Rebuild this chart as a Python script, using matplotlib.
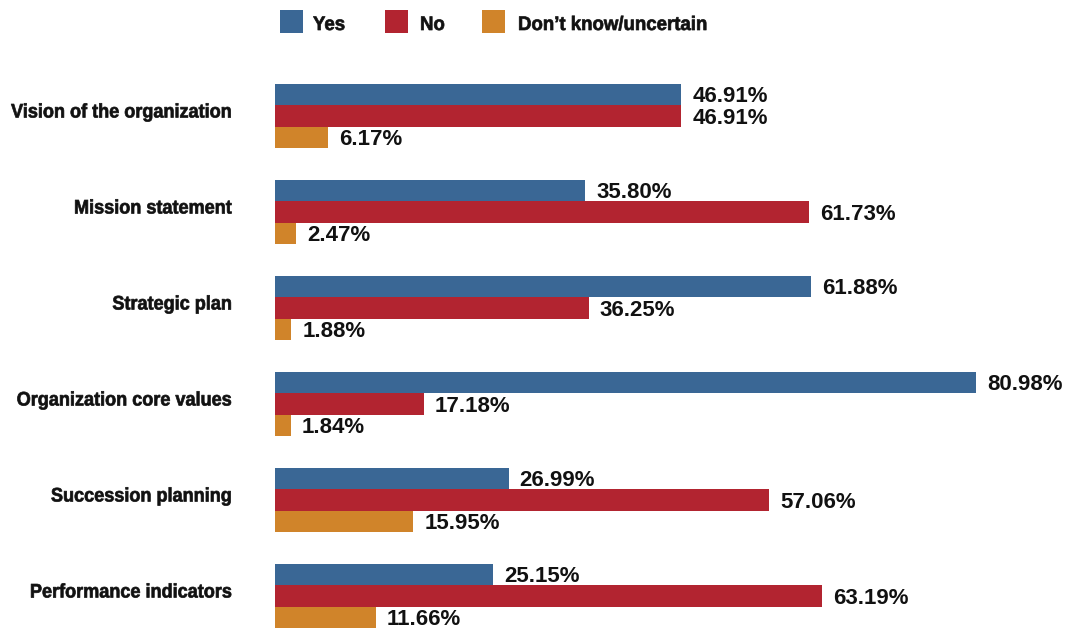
import matplotlib
matplotlib.use("Agg")
import matplotlib.pyplot as plt
from matplotlib.patches import Rectangle
from matplotlib.patheffects import AbstractPathEffect
from matplotlib.transforms import Affine2D, blended_transform_factory
from matplotlib.font_manager import FontProperties
import numpy as np

categories = ["Vision of the organization", "Mission statement", "Strategic plan",
              "Organization core values", "Succession planning", "Performance indicators"]
series_names = ["Yes", "No", "Don\u2019t know/uncertain"]
yes_vals = [46.91, 35.80, 61.88, 80.98, 26.99, 25.15]
no_vals = [46.91, 61.73, 36.25, 17.18, 57.06, 63.19]
dk_vals = [6.17, 2.47, 1.88, 1.84, 15.95, 11.66]
colors = ["#3A6795", "#B22430", "#D0842A"]

W, H = 1065, 628
TEXT_COLOR = "#111111"


class Reshape(AbstractPathEffect):
    """Scale text glyphs (narrow and tall, emulating a condensed bold typeface)."""
    def __init__(self, sx, sy, anchor="left", stroke=0.0):
        super().__init__()
        self.sx, self.sy = sx, sy
        self.anchor = anchor
        self.stroke = stroke

    def draw_path(self, renderer, gc, tpath, affine, rgbFace=None):
        x0 = tpath.get_extents().x1 if self.anchor == "right" else 0.0
        t = Affine2D().translate(-x0, 0).scale(self.sx, self.sy).translate(x0, 0)
        gc0 = renderer.new_gc()
        gc0.copy_properties(gc)
        if self.stroke > 0:
            gc0.set_linewidth(self.stroke)
            gc0.set_foreground(rgbFace)
        renderer.draw_path(gc0, tpath, t + affine, rgbFace)
        gc0.restore()


base_size = 12.4
target_size = 14.1
label_fp = FontProperties(family="Liberation Sans", weight="bold", size=base_size)

fig = plt.figure(figsize=(W / 100, H / 100), dpi=100)
renderer = fig.canvas.get_renderer()
tmp = fig.text(0, 0, "Vision of the organization", fontproperties=label_fp)
wpx = tmp.get_window_extent(renderer).width
tmp.remove()
sx = 221 / wpx
sy = target_size / base_size

ax_top_px, ax_bot_px = 70, 628
ax_left_px = 275
ax = fig.add_axes([ax_left_px / W, 0, 1 - ax_left_px / W, (ax_bot_px - ax_top_px) / H])

px_per_unit_y = 96.0
c0 = 116.0
ax.set_ylim((ax_bot_px - c0) / px_per_unit_y, (ax_top_px - c0) / px_per_unit_y)
px_per_pct = 701 / 80.98
ax.set_xlim(0, (W - ax_left_px) / px_per_pct)

bh = 21.5 / px_per_unit_y
y = np.arange(len(categories))
offsets = [-bh, 0, bh]
val_size = 16
cap_half_pt = 0.716 * val_size / 2
for vals, off, col in zip([yes_vals, no_vals, dk_vals], offsets, colors):
    bars = ax.barh(y + off, vals, height=bh, color=col, linewidth=0)
    for b, v in zip(bars, vals):
        ax.annotate(f"{v:.2f}%", (b.get_width(), b.get_y() + b.get_height() / 2),
                    xytext=(8, -cap_half_pt), textcoords="offset points", va="baseline", ha="left",
                    fontsize=val_size, fontweight="bold", family="Liberation Sans", color=TEXT_COLOR)

label_tr = blended_transform_factory(fig.transFigure, ax.transData)
for i, c in enumerate(categories):
    fig.text(232 / W, i + 1.5 / px_per_unit_y, c, ha="right", va="baseline",
             fontproperties=label_fp, color=TEXT_COLOR, transform=label_tr,
             path_effects=[Reshape(sx, sy, "right", 0.5)])

ax.axis("off")

# ---- legend ----
sq_x = [280, 385, 482]
txt_x = [313, 420, 518]
for sqx, tx, col, name in zip(sq_x, txt_x, colors, series_names):
    fig.patches.append(Rectangle((sqx / W, 1 - 33 / H), 23 / W, 23 / H, transform=fig.transFigure,
                                 facecolor=col, edgecolor="none"))
    fig.text(tx / W, 1 - 30 / H, name, ha="left", va="baseline", fontproperties=label_fp,
             color=TEXT_COLOR, transform=fig.transFigure,
             path_effects=[Reshape(sx * 1.03, sy, "left", 0.5)])

fig.savefig("out.png", dpi=100)
